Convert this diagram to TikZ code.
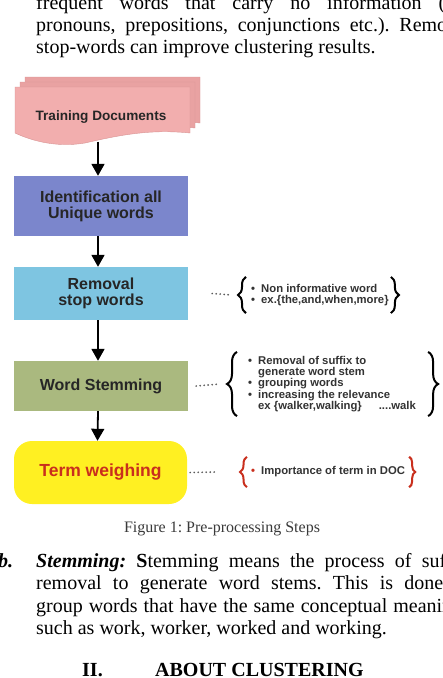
\documentclass[tikz,border=0pt]{standalone}
\usepackage{fontspec}
\setmainfont{Liberation Serif}
\setsansfont{Liberation Sans}
\usepackage{xcolor}
\usepackage{tikz}
\usetikzlibrary{arrows.meta}
\usetikzlibrary{decorations.pathreplacing}
\usetikzlibrary{positioning}

\definecolor{docpink}{HTML}{F2AEAE}
\definecolor{docback}{HTML}{E9A2A2}
\definecolor{docedge}{HTML}{D89494}
\definecolor{identblue}{HTML}{7B86CC}
\definecolor{stopblue}{HTML}{7EC5E1}
\definecolor{stemolive}{HTML}{AAB97F}
\definecolor{termyellow}{HTML}{FFF022}
\definecolor{termred}{HTML}{C92F1D}
\definecolor{notegray}{HTML}{333333}
\definecolor{captgray}{HTML}{3A3A3A}

\frenchspacing
\newcommand{\bul}{\makebox[10pt][l]{\textbullet}}

\tikzset{
  body/.style={anchor=base west, inner sep=0pt, font=\fontsize{20}{22}\selectfont},
  stepbox/.style={minimum width=174pt, align=center, inner sep=0pt,
    font=\sffamily\bfseries\fontsize{16}{16}\selectfont, text=black!85},
  flow/.style={line width=1.8pt, -{Triangle[width=13pt,length=12pt]}},
  note/.style={anchor=west, align=left, inner sep=2pt,
    font=\sffamily\bfseries\fontsize{11.3}{11.3}\selectfont, text=notegray},
  dots/.style={line width=1.9pt, gray!70!black, line cap=round, dash pattern=on 0pt off 4pt},
  curly/.style={decorate, decoration={brace, amplitude=#1}, line width=2pt},
  curly/.default=8pt
}

\begin{document}
\begin{tikzpicture}[x=1pt,y=-1pt]
    \useasboundingbox (0,0) rectangle (443,678);
    \clip (0,0) rectangle (443,678);
    \fill[white] (0,0) rectangle (443,678);

    \node[body] (txtA) at (36,9) {\makebox[409pt][s]{frequent words that carry no information (}};
    \node[body] (txtB) at (36,31) {\makebox[411pt][s]{pronouns, prepositions, conjunctions etc.). Remo}};
    \node[body] (txtC) at (36,53) {stop-words can improve clustering results.};

    \foreach \d/\c in {10/docback, 5/docback, 0/docpink}
        \filldraw[fill=\c, draw=docedge, line width=0.4pt, shift={(\d,-\d)}]
            (15,87) -- (190,87) -- (190,133)
            .. controls (150,129) and (120,135) .. (85,143)
            .. controls (55,148) and (30,140) .. (15,133) -- cycle;

    \node[stepbox, font=\sffamily\bfseries\fontsize{13.6}{14}\selectfont, minimum height=48pt] (docs) at (101,117.5) {Training Documents};
    \node[stepbox, fill=identblue, minimum height=60pt] (ident) at (101,206) {Identification all\\Unique words};
    \node[stepbox, fill=stopblue, minimum height=53pt] (stop) at (101,293.5) {Removal\\stop words};
    \node[stepbox, fill=stemolive, minimum height=50pt] (stem) at (101,386) {Word Stemming};
    \node[stepbox, fill=termyellow, text=termred, minimum width=173pt, minimum height=63pt, rounded corners=18pt,
        font=\sffamily\bfseries\fontsize{17.5}{18}\selectfont] (term) at (100.5,472.5) {Term weighing};

    \draw[flow] ([xshift=-3pt]docs.south) -- ([xshift=-3pt]ident.north);
    \draw[flow] ([xshift=-3pt]ident.south) -- ([xshift=-3pt]stop.north);
    \draw[flow] ([xshift=-3pt]stop.south) -- ([xshift=-3pt]stem.north);
    \draw[flow] ([xshift=-3pt]stem.south) -- ([xshift=-3pt]term.north);

    \node[note] (stopnote) at (249,295) {\bul Non informative word\\\bul ex.\{the,and,when,more\}};
    \node[note] (stemnote) at (246,384) {\bul Removal of suffix to\\
        \hspace*{10pt}generate word stem\\
        \bul grouping words\\
        \bul increasing the relevance\\
        \hspace*{10pt}ex \{walker,walking\}\hspace{17pt}....walk};
    \node[note, minimum height=30pt] (termnote) at (249,472) {\textcolor{termred}{\bul}Importance of term in DOC};

    \draw[dots] ([xshift=24pt]stop.east) -- ([xshift=-17pt]stopnote.west);
    \draw[dots] ([xshift=8pt]stem.east) -- ([xshift=-26pt]stemnote.west);
    \draw[dots] ([xshift=3pt]term.east) -- ([xshift=-34pt]termnote.west);

    \draw[curly] ([shift={(-3pt,-5pt)}]stopnote.south west) -- ([shift={(-3pt,5pt)}]stopnote.north west);
    \draw[curly] ([yshift=5pt]stopnote.north east) -- ([yshift=-5pt]stopnote.south east);
    \draw[curly=10pt] ([shift={(-9pt,-2pt)}]stemnote.south west) -- ([shift={(-9pt,2pt)}]stemnote.north west);
    \draw[curly=10pt] ([shift={(10pt,2pt)}]stemnote.north east) -- ([shift={(10pt,-2pt)}]stemnote.south east);
    \draw[curly=7pt, termred] ([xshift=-2pt]termnote.south west) -- ([xshift=-2pt]termnote.north west);
    \draw[curly=6pt, termred] ([xshift=2pt]termnote.north east) -- ([xshift=2pt]termnote.south east);

    \node[anchor=base, inner sep=0pt, text=captgray, font=\fontsize{16}{18}\selectfont] (caption) at (222,532) {Figure 1: Pre-processing Steps};

    \node[body, font=\bfseries\itshape\fontsize{20}{22}\selectfont] (itemb) at (-2,567) {b.};
    \node[body] (txtD) at (36,567) {\makebox[410pt][s]{\textbf{\textit{Stemming:}} \textbf{S}temming means the process of suf}};
    \node[body] (txtE) at (36,589) {\makebox[407pt][s]{removal to generate word stems. This is done}};
    \node[body] (txtF) at (36,612) {\makebox[416pt][s]{group words that have the same conceptual meanin}};
    \node[body] (txtG) at (36,634) {such as work, worker, worked and working.};

    \node[body, font=\bfseries\fontsize{20}{22}\selectfont] (secnum) at (82,676) {II.};
    \node[body, font=\bfseries\fontsize{20}{22}\selectfont] (sectitle) at (155,676) {ABOUT CLUSTERING};
\end{tikzpicture}
\end{document}
